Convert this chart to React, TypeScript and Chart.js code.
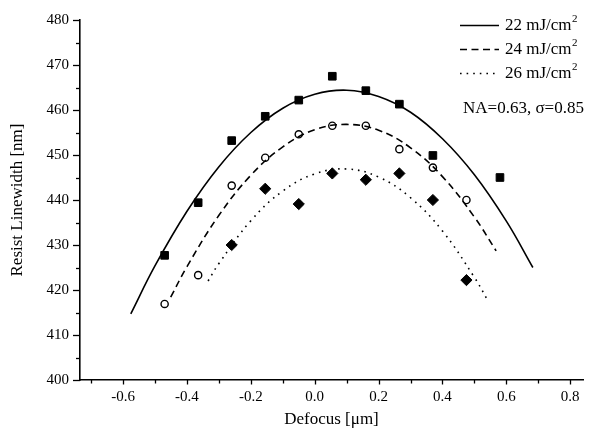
import React, { useEffect, useRef } from 'react';
import { Chart, registerables } from 'chart.js';

Chart.register(...registerables);

const FONT = '"Liberation Serif", "Times New Roman", serif';

// Measured data points (defocus in µm, linewidth in nm)
const defocus = [-0.47, -0.365, -0.26, -0.155, -0.05, 0.055, 0.16, 0.265, 0.37, 0.475, 0.58];
const lw22 = [427.7, 439.4, 453.2, 458.6, 462.2, 467.5, 464.3, 461.3, 449.9, null, 445.0];
const lw24 = [416.9, 423.3, 443.2, 449.4, 454.6, 456.5, 456.5, 451.3, 447.2, 440.0, null];
const lw26 = [null, null, 430.0, 442.5, 439.1, 445.9, 444.5, 445.9, 440.0, 422.2, null];

// Fitted curves
const fit22X = [-0.576, -0.5, -0.4, -0.3, -0.2, -0.1, 0, 0.1, 0.2, 0.3, 0.4, 0.5, 0.6, 0.683];
const fit22Y = [414.7, 425.4, 437.5, 447.4, 455.0, 460.4, 463.5, 464.4, 463.0, 459.5, 453.6, 445.6, 435.3, 425.0];
const fit24X = [-0.451, -0.4, -0.3, -0.2, -0.1, 0, 0.1, 0.2, 0.3, 0.4, 0.5, 0.568];
const fit24Y = [418.4, 425.2, 436.6, 445.5, 451.8, 455.6, 456.8, 455.5, 451.6, 445.2, 436.2, 428.7];
const fit26X = [-0.334, -0.3, -0.2, -0.1, 0, 0.1, 0.2, 0.3, 0.4, 0.5, 0.544];
const fit26Y = [422.0, 425.9, 435.4, 442.0, 445.8, 446.9, 445.1, 440.5, 433.1, 422.8, 417.4];

const legendLabels = ['22 mJ/cm', '24 mJ/cm', '26 mJ/cm'];
const noteText = 'NA=0.63, σ=0.85';

// Tick values
const xMajor = [-0.6, -0.4, -0.2, 0.0, 0.2, 0.4, 0.6, 0.8];
const xMinor = [-0.7, -0.5, -0.3, -0.1, 0.1, 0.3, 0.5, 0.7];
const yMajor = [400, 410, 420, 430, 440, 450, 460, 470, 480];
const yMinor = [405, 415, 425, 435, 445, 455, 465, 475];

const DASH = [7, 4.5];
const DOT = [1.6, 5];
const LW = 1.6;

function pts(xs: number[], ys: (number | null)[]) {
  return xs
    .map((x, i) => ({ x, y: ys[i] }))
    .filter((p) => p.y !== null) as { x: number; y: number }[];
}

const tickPlugin = {
  id: 'customTicks',
  afterDraw(chart: any) {
    const { ctx, scales, chartArea } = chart;
    const x = scales.x;
    const y = scales.y;
    ctx.save();
    ctx.strokeStyle = '#000';
    ctx.lineWidth = 1.3;
    const seg = (x1: number, y1: number, x2: number, y2: number) => {
      ctx.beginPath();
      ctx.moveTo(x1, y1);
      ctx.lineTo(x2, y2);
      ctx.stroke();
    };
    xMajor.forEach((v) => {
      const px = Math.round(x.getPixelForValue(v)) + 0.5;
      seg(px, chartArea.bottom, px, chartArea.bottom + 4.5);
    });
    xMinor.forEach((v) => {
      const px = Math.round(x.getPixelForValue(v)) + 0.5;
      seg(px, chartArea.bottom, px, chartArea.bottom + 3.5);
    });
    yMajor.forEach((v) => {
      const py = Math.round(y.getPixelForValue(v)) + 0.5;
      seg(chartArea.left, py, chartArea.left - 7, py);
    });
    yMinor.forEach((v) => {
      const py = Math.round(y.getPixelForValue(v)) + 0.5;
      seg(chartArea.left, py, chartArea.left - 4, py);
    });
    ctx.restore();
  },
};

const legendPlugin = {
  id: 'customLegend',
  afterDraw(chart: any) {
    const ctx = chart.ctx;
    ctx.save();
    const rows = [
      { dash: [] as number[], y: 25.5, text: legendLabels[0] },
      { dash: DASH, y: 49.5, text: legendLabels[1] },
      { dash: DOT, y: 73.5, text: legendLabels[2] },
    ];
    rows.forEach((r) => {
      ctx.setLineDash(r.dash);
      ctx.lineWidth = LW;
      ctx.strokeStyle = '#000';
      ctx.beginPath();
      ctx.moveTo(460, r.y);
      ctx.lineTo(499, r.y);
      ctx.stroke();
      ctx.setLineDash([]);
      ctx.fillStyle = '#000';
      ctx.textBaseline = 'middle';
      ctx.textAlign = 'left';
      ctx.font = `17px ${FONT}`;
      ctx.fillText(r.text, 505, r.y + 0.5);
      const w = ctx.measureText(r.text).width;
      ctx.font = `11px ${FONT}`;
      ctx.fillText('2', 505 + w + 0.5, r.y - 6.5);
    });
    ctx.font = `17px ${FONT}`;
    ctx.textBaseline = 'middle';
    ctx.fillText(noteText, 463, 108.5);
    ctx.restore();
  },
};

export default function App() {
  const ref = useRef<HTMLCanvasElement>(null);
  useEffect(() => {
    document.body.style.margin = '0';
    const font = { family: FONT, size: 15 };
    const titleFont = { family: FONT, size: 17 };
    const chart = new Chart(ref.current as HTMLCanvasElement, {
      type: 'scatter',
      data: {
        datasets: [
          {
            label: '22 fit',
            data: pts(fit22X, fit22Y),
            showLine: true,
            borderColor: '#000',
            borderWidth: LW,
            pointRadius: 0,
            tension: 0.4,
          },
          {
            label: '24 fit',
            data: pts(fit24X, fit24Y),
            showLine: true,
            borderColor: '#000',
            borderWidth: LW,
            borderDash: DASH,
            pointRadius: 0,
            tension: 0.4,
          },
          {
            label: '26 fit',
            data: pts(fit26X, fit26Y),
            showLine: true,
            borderColor: '#000',
            borderWidth: LW,
            borderDash: DOT,
            pointRadius: 0,
            tension: 0.4,
          },
          {
            label: '22 data',
            data: pts(defocus, lw22),
            pointStyle: 'rect',
            pointRadius: 5.4,
            backgroundColor: '#000',
            borderColor: '#000',
            borderWidth: 1,
          },
          {
            label: '24 data',
            data: pts(defocus, lw24),
            pointStyle: 'circle',
            pointRadius: 3.6,
            backgroundColor: '#fff',
            borderColor: '#000',
            borderWidth: 1.4,
          },
          {
            label: '26 data',
            data: pts(defocus, lw26),
            pointStyle: 'rectRot',
            pointRadius: 5.6,
            backgroundColor: '#000',
            borderColor: '#000',
            borderWidth: 1,
          },
        ],
      },
      options: {
        responsive: false,
        animation: false,
        layout: { padding: { left: 0, right: 10, top: 10, bottom: 0 } },
        plugins: {
          legend: { display: false },
          tooltip: { enabled: false },
        },
        scales: {
          x: {
            type: 'linear',
            min: -0.735,
            max: 0.84,
            afterBuildTicks: (s: any) => {
              s.ticks = xMajor.map((v) => ({ value: v }));
            },
            afterFit: (s: any) => {
              s.height = 61;
            },
            ticks: {
              font,
              color: '#000',
              padding: 8,
              maxRotation: 0,
              autoSkip: false,
              callback: (v: any) => Number(v).toFixed(1),
            },
            grid: { display: false, drawTicks: false },
            border: { display: true, color: '#000', width: 1.6 },
            title: {
              display: true,
              text: 'Defocus [μm]',
              font: titleFont,
              color: '#000',
              padding: { top: 0, bottom: 11 },
            },
          },
          y: {
            type: 'linear',
            min: 400,
            max: 480,
            afterBuildTicks: (s: any) => {
              s.ticks = yMajor.map((v) => ({ value: v }));
            },
            afterFit: (s: any) => {
              s.width = 80;
            },
            ticks: {
              font,
              color: '#000',
              padding: 11,
              autoSkip: false,
              callback: (v: any) => String(v),
            },
            grid: { display: false, drawTicks: false },
            border: { display: true, color: '#000', width: 1.6 },
            title: {
              display: true,
              text: 'Resist Linewidth [nm]',
              font: titleFont,
              color: '#000',
              padding: { top: 7, bottom: 0 },
            },
          },
        },
      } as any,
      plugins: [tickPlugin, legendPlugin],
    });
    return () => chart.destroy();
  }, []);
  return <canvas ref={ref} width={593} height={441} style={{ display: 'block' }} />;
}
